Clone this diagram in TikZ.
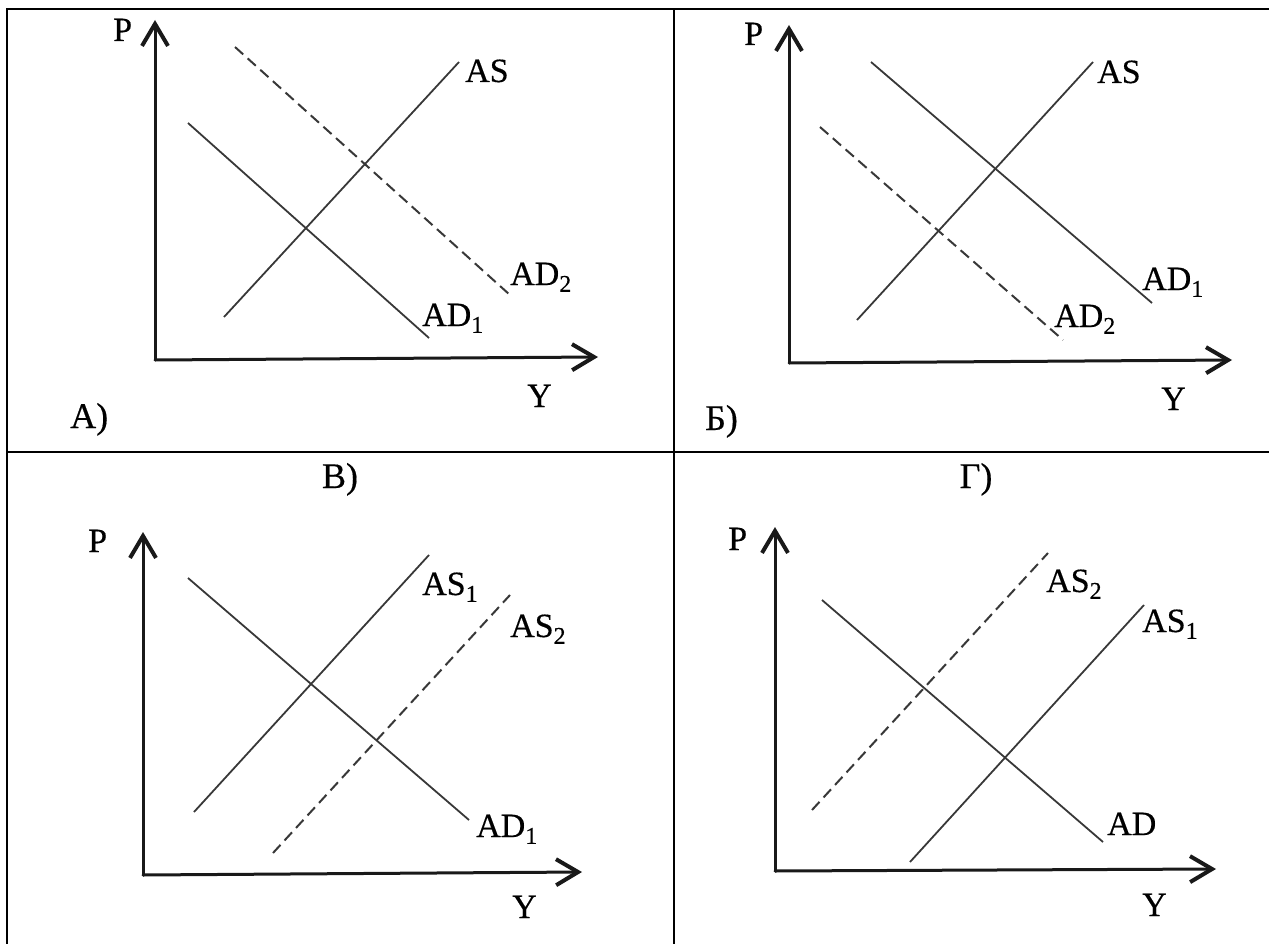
\documentclass[tikz,border=0pt]{standalone}
\usepackage{fontspec}
\setmainfont{Liberation Serif}[FakeBold=0.4]
\usetikzlibrary{arrows.meta}
\newcommand\mysub[1]{\raisebox{-0.2em}{\fontsize{24}{24}\selectfont #1}}
\tikzset{
  grid line/.style={line width=2.5pt, draw=black},
  axis/.style={line width=3pt, draw=black!90, line cap=round,
    -{Straight Barb[length=22pt,width=26pt,line width=4pt]}},
  curve/.style={line width=1.8pt, draw=black!78},
  dcurve/.style={curve, line width=2pt, dash pattern=on 11pt off 6pt},
  lbl/.style={anchor=base west, inner sep=0pt, font=\fontsize{34}{40}\selectfont},
  plbl/.style={inner sep=0pt, font=\fontsize{36}{42}\selectfont},
}
\begin{document}
\begin{tikzpicture}[x=1pt,y=-1pt]
\useasboundingbox (0,0) rectangle (1269,944);
% table
\coordinate (tl) at (7,9); \coordinate (tr) at (1269,9);
\coordinate (bl) at (7,944); \coordinate (mt) at (674,9); \coordinate (mb) at (674,944);
\coordinate (ml) at (7,452); \coordinate (mr) at (1269,452);
\draw[grid line] (bl) -- (tl) -- (tr);
\draw[grid line] (mt) -- (mb);
\draw[grid line] (ml) -- (mr);

% ---------- Panel A ----------
\coordinate (aO) at (155,360); \coordinate (aP) at (155,20); \coordinate (aY) at (598,357);
\draw[axis] (aO) -- (aP);
\draw[axis] (aO) -- (aY);
\coordinate (aD2s) at (235,47); \coordinate (aD2e) at (510,295);
\coordinate (aSs) at (224,317); \coordinate (aSe) at (459,62);
\coordinate (aD1s) at (188,123); \coordinate (aD1e) at (429,338);
\draw[dcurve] (aD2s) -- (aD2e);
\draw[curve] (aSs) -- (aSe);
\draw[curve] (aD1s) -- (aD1e);
\node[lbl] (aPl) at (113,41) {P};
\node[lbl] (aASl) at (465,82) {AS};
\node[lbl] (aAD2l) at (510,285) {AD\mysub{2}};
\node[lbl] (aAD1l) at (422,326) {AD\mysub{1}};
\node[lbl] (aYl) at (527,407) {Y};
\node[plbl, anchor=base west] (aTl) at (70,428) {А)};

% ---------- Panel B (Б) ----------
\coordinate (bO) at (789,363); \coordinate (bP) at (789,25); \coordinate (bY) at (1232,360);
\draw[axis] (bO) -- (bP);
\draw[axis] (bO) -- (bY);
\coordinate (bSs) at (857,320); \coordinate (bSe) at (1093,62);
\coordinate (bD1s) at (871,62); \coordinate (bD1e) at (1152,303);
\coordinate (bD2s) at (820,127); \coordinate (bD2e) at (1063,340);
\draw[curve] (bSs) -- (bSe);
\draw[curve] (bD1s) -- (bD1e);
\draw[dcurve] (bD2s) -- (bD2e);
\node[lbl] (bPl) at (744,45) {P};
\node[lbl] (bASl) at (1097,83) {AS};
\node[lbl] (bAD1l) at (1142,290) {AD\mysub{1}};
\node[lbl] (bAD2l) at (1054,327) {AD\mysub{2}};
\node[lbl] (bYl) at (1161,410) {Y};
\node[plbl, anchor=base west] (bTl) at (705,430) {Б)};

% ---------- Panel C (В) ----------
\coordinate (cO) at (143,875); \coordinate (cP) at (143,532); \coordinate (cY) at (582,872);
\draw[axis] (cO) -- (cP);
\draw[axis] (cO) -- (cY);
\coordinate (cD1s) at (188,578); \coordinate (cD1e) at (469,820);
\coordinate (cS1s) at (194,812); \coordinate (cS1e) at (429,555);
\coordinate (cS2s) at (273,853); \coordinate (cS2e) at (510,595);
\draw[curve] (cD1s) -- (cD1e);
\draw[curve] (cS1s) -- (cS1e);
\draw[dcurve] (cS2s) -- (cS2e);
\node[lbl] (cPl) at (88,552) {P};
\node[lbl] (cAS1l) at (422,595) {AS\mysub{1}};
\node[lbl] (cAS2l) at (510,637) {AS\mysub{2}};
\node[lbl] (cAD1l) at (476,837) {AD\mysub{1}};
\node[lbl] (cYl) at (512,918) {Y};
\node[plbl, anchor=base] (cTl) at (340,488) {В)};

% ---------- Panel D (Г) ----------
\coordinate (dO) at (775,871); \coordinate (dP) at (775,527); \coordinate (dY) at (1216,869);
\draw[axis] (dO) -- (dP);
\draw[axis] (dO) -- (dY);
\coordinate (dS2s) at (812,810); \coordinate (dS2e) at (1048,553);
\coordinate (dDs) at (822,600); \coordinate (dDe) at (1103,842);
\coordinate (dS1s) at (910,862); \coordinate (dS1e) at (1144,605);
\draw[dcurve] (dS2s) -- (dS2e);
\draw[curve] (dDs) -- (dDe);
\draw[curve] (dS1s) -- (dS1e);
\node[lbl] (dPl) at (728,550) {P};
\node[lbl] (dAS2l) at (1046,592) {AS\mysub{2}};
\node[lbl] (dAS1l) at (1142,632) {AS\mysub{1}};
\node[lbl] (dADl) at (1107,835) {AD};
\node[lbl] (dYl) at (1142,916) {Y};
\node[plbl, anchor=base] (dTl) at (976,488) {Г)};
\end{tikzpicture}
\end{document}
